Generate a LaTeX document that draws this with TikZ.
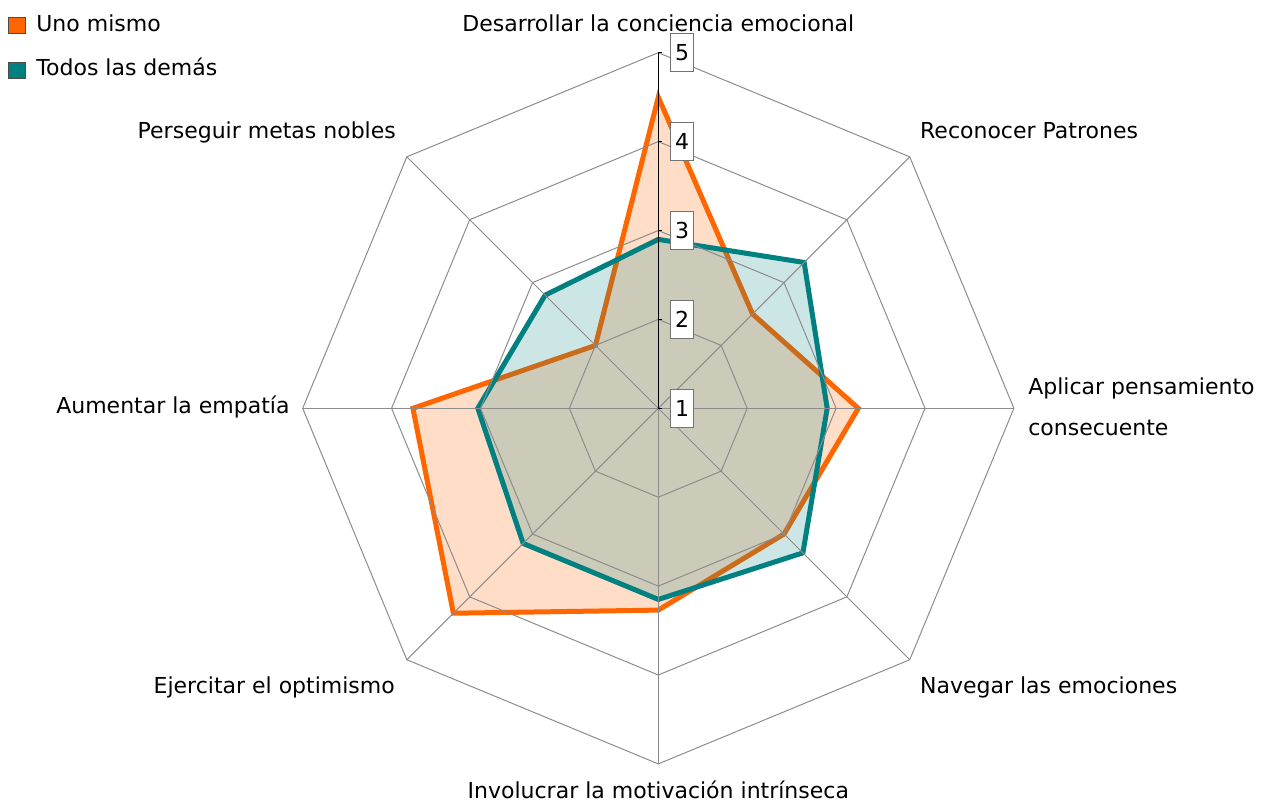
\documentclass[tikz,border=0pt]{standalone}
\usepackage{fontspec}
\setmainfont{DejaVu Sans}
\usetikzlibrary{positioning}

\definecolor{unoorange}{RGB}{255,102,0}
\definecolor{demasteal}{RGB}{0,128,128}
\def\rlev{44.45pt}

\tikzset{
  gridline/.style={draw=black!45, line width=0.5pt},
  axislabel/.style={font=\fontsize{11}{13}\selectfont, inner sep=2pt, text height=8pt, text depth=2.5pt},
  axislabeltwo/.style={font=\fontsize{11}{20.5}\selectfont, inner sep=2pt, align=left},
  lvlbox/.style={draw=black!55, fill=white, line width=0.5pt, minimum width=11.5pt, minimum height=19pt, inner sep=0pt, font=\fontsize{11}{13}\selectfont},
  legsq/.style={draw=black!70, line width=0.5pt, minimum width=8.5pt, minimum height=8pt, inner sep=0pt},
  uno/.style={draw=unoorange, fill=unoorange, fill opacity=0.22, line width=2.5pt},
  demas/.style={draw=demasteal, fill=demasteal, fill opacity=0.2, line width=2.5pt}
}

\begin{document}
\begin{tikzpicture}
\useasboundingbox (-329.15pt,-197.35pt) rectangle (302.35pt,204.15pt);

  % Define nodes
\coordinate (c) at (0,0);
\foreach \i in {1,...,8}
  \coordinate (o\i) at ({90-45*(\i-1)}:{4*\rlev});
\foreach \v [count=\i] in {4.5,2.5,3.25,3.0,3.27,4.26,3.76,2.0}
  \coordinate (u\i) at ({90-45*(\i-1)}:{(\v-1)*\rlev});
\foreach \v [count=\i] in {2.9,3.32,2.9,3.3,3.15,3.15,3.03,2.8}
  \coordinate (d\i) at ({90-45*(\i-1)}:{(\v-1)*\rlev});

  % Series
\filldraw[uno] (u1) -- (u2) -- (u3) -- (u4) -- (u5) -- (u6) -- (u7) -- (u8) -- cycle;
\filldraw[demas] (d1) -- (d2) -- (d3) -- (d4) -- (d5) -- (d6) -- (d7) -- (d8) -- cycle;

  % Grid
\foreach \k in {1,...,4}
  \draw[gridline] (90:{\k*\rlev}) \foreach \j in {1,...,7} { -- ({90-45*\j}:{\k*\rlev}) } -- cycle;
\foreach \i in {2,...,8}
  \draw[gridline] (c) -- (o\i);
\draw[line width=0.5pt] (c) -- (o1);

  % Level boxes
\foreach \k in {1,...,5} {
  \draw[line width=0.5pt] (0,{(\k-1)*\rlev}) -- ++(2pt,0);
  \node[lvlbox] (n\k) at (11.85pt,{(\k-1)*\rlev}) {\k};
}

  % Axis labels
\node[axislabel, above=5.85pt of o1] (l1) {Desarrollar la conciencia emocional};
\node[axislabel, above right=4.3pt and 3pt of o2] (l2) {Reconocer Patrones};
\node[axislabeltwo, right=5pt of o3, yshift=1pt] (l3) {Aplicar pensamiento\\consecuente};
\node[axislabel, below right=6.5pt and 3pt of o4] (l4) {Navegar las emociones};
\node[axislabel, below=7pt of o5] (l5) {Involucrar la motivación intrínseca};
\node[axislabel, below left=6.5pt and 3.8pt of o6] (l6) {Ejercitar el optimismo};
\node[axislabel, left=4.35pt of o7] (l7) {Aumentar la empatía};
\node[axislabel, above left=4.3pt and 3.3pt of o8] (l8) {Perseguir metas nobles};

  % Legend
\node[legsq, fill=unoorange] (k1) at (-320.65pt,191.15pt) {};
\node[axislabel, right=3pt of k1] (t1) {Uno mismo};
\node[legsq, fill=demasteal, below=13.7pt of k1] (k2) {};
\node[axislabel, right=3pt of k2] (t2) {Todos las demás};

\end{tikzpicture}
\end{document}
